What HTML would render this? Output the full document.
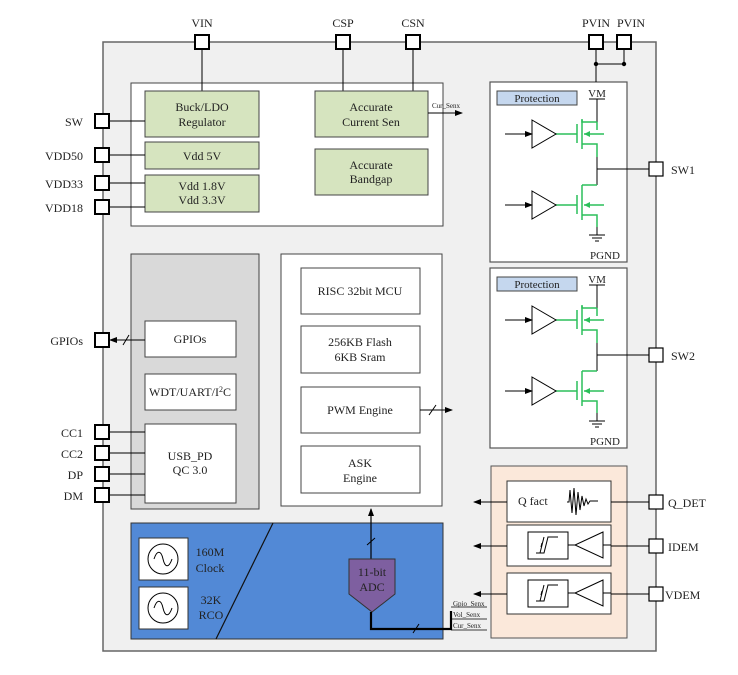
<!DOCTYPE html>
<html><head><meta charset="utf-8"><style>
html,body{margin:0;padding:0;background:#fff;}
svg{display:block;}
text{font-family:"Liberation Serif",serif;fill:#222;}
</style></head><body>
<svg width="738" height="675" viewBox="0 0 738 675" xmlns="http://www.w3.org/2000/svg">
<defs>
<marker id="ah" markerWidth="8" markerHeight="8" refX="7" refY="4" orient="auto" markerUnits="userSpaceOnUse"><path d="M0,1 L8,4 L0,7 Z" fill="#000"/></marker>
<g id="prot">
  <rect x="0" y="0" width="137" height="180" fill="#fff" stroke="#555" stroke-width="1.2"/>
  <rect x="7" y="9" width="80" height="14" fill="#c5d7ee" stroke="#444"/>
  <text x="47" y="20" font-size="11" text-anchor="middle">Protection</text>
  <text x="107" y="15" font-size="11" text-anchor="middle">VM</text>
  <line x1="99" y1="17" x2="115" y2="17" stroke="#000"/>
  <line x1="107" y1="17" x2="107" y2="40" stroke="#000"/>
  <!-- top transistor -->
  <g stroke="#2bbf5a" stroke-width="1.5" fill="none">
    <polyline points="107,40 107,40 92,40 92,38"/>
    <line x1="92" y1="37" x2="92" y2="67"/>
    <line x1="87" y1="42" x2="87" y2="61"/>
    <line x1="65" y1="52" x2="87" y2="52"/>
    <line x1="94" y1="52" x2="114" y2="52"/>
    <polyline points="92,62 107,62 107,75"/>
    <line x1="107" y1="40" x2="107" y2="48"/>
  </g>
  <path d="M94,52 L100,49 L100,55 Z" fill="#2bbf5a"/>
  <path d="M42,38 L66,52 L42,66 Z" fill="#fff" stroke="#000"/>
  <line x1="15" y1="52" x2="42" y2="52" stroke="#000" marker-end="url(#ah)"/>
  <line x1="107" y1="75" x2="107" y2="103" stroke="#000"/>
  <line x1="107" y1="87" x2="159" y2="87" stroke="#000"/>
  <!-- bottom transistor -->
  <g stroke="#2bbf5a" stroke-width="1.5" fill="none">
    <polyline points="107,103 92,103"/>
    <line x1="92" y1="108" x2="92" y2="138"/>
    <line x1="87" y1="113" x2="87" y2="132"/>
    <line x1="65" y1="123" x2="87" y2="123"/>
    <line x1="94" y1="123" x2="114" y2="123"/>
    <polyline points="92,133 107,133 107,145"/>
    <line x1="92" y1="103" x2="92" y2="108"/>
  </g>
  <path d="M94,123 L100,120 L100,126 Z" fill="#2bbf5a"/>
  <path d="M42,109 L66,123 L42,137 Z" fill="#fff" stroke="#000"/>
  <line x1="15" y1="123" x2="42" y2="123" stroke="#000" marker-end="url(#ah)"/>
  <line x1="107" y1="145" x2="107" y2="153" stroke="#000"/>
  <line x1="99" y1="153" x2="115" y2="153" stroke="#000"/>
  <line x1="102" y1="156" x2="112" y2="156" stroke="#000"/>
  <line x1="105" y1="159" x2="109" y2="159" stroke="#000"/>
  <text x="115" y="177" font-size="11" text-anchor="middle">PGND</text>
</g>
<g id="osc">
  <rect x="0" y="0" width="49" height="42" fill="#fff" stroke="#333"/>
  <circle cx="24" cy="21" r="15" fill="none" stroke="#000"/>
  <path d="M15,21 C18,12 22,12 24,21 C26,30 30,30 33,21" fill="none" stroke="#000"/>
</g>
<g id="hyst">
  <rect x="0" y="0" width="104" height="41" fill="#fff" stroke="#333"/>
  <rect x="21" y="7" width="40" height="27" fill="#fff" stroke="#000"/>
  <path d="M29,28 L37,28 L41,12 L51,12 M33,28 L37,12 M37,28 L41,12" fill="none" stroke="#000"/>
  <line x1="34" y1="22" x2="35" y2="18" stroke="#000"/>
  <path d="M96,7 L68,20 L96,33 Z" fill="#fff" stroke="#000"/>
  <line x1="61" y1="20" x2="68" y2="20" stroke="#000"/>
  <line x1="96" y1="20" x2="104" y2="20" stroke="#000"/>
</g>
</defs>

<!-- main chip -->
<rect x="103" y="42" width="553" height="609" fill="#f0f0f0" stroke="#666" stroke-width="1.5"/>

<!-- top box -->
<rect x="131" y="83" width="312" height="143" fill="#fff" stroke="#444"/>
<line x1="202" y1="42" x2="202" y2="91" stroke="#000"/>
<line x1="343" y1="42" x2="343" y2="91" stroke="#000"/>
<line x1="413" y1="42" x2="413" y2="91" stroke="#000"/>
<g fill="#d6e4bf" stroke="#444">
<rect x="145" y="91" width="114" height="46"/>
<rect x="145" y="142" width="114" height="27"/>
<rect x="145" y="175" width="114" height="37"/>
<rect x="315" y="91" width="113" height="46"/>
<rect x="315" y="149" width="113" height="46"/>
</g>
<g font-size="12" text-anchor="middle">
<text x="202" y="111">Buck/LDO</text><text x="202" y="126">Regulator</text>
<text x="202" y="160">Vdd 5V</text>
<text x="202" y="190">Vdd 1.8V</text><text x="202" y="204">Vdd 3.3V</text>
<text x="371" y="111">Accurate</text><text x="371" y="126">Current Sen</text>
<text x="371" y="169">Accurate</text><text x="371" y="183">Bandgap</text>
</g>
<line x1="428" y1="113" x2="462" y2="113" stroke="#000" marker-end="url(#ah)"/>
<text x="432" y="108" font-size="7">Cur_Senx</text>
<g stroke="#000">
<line x1="109" y1="121" x2="145" y2="121"/>
<line x1="109" y1="155" x2="145" y2="155"/>
<line x1="109" y1="183" x2="145" y2="183"/>
<line x1="109" y1="207" x2="145" y2="207"/>
</g>

<!-- gray box -->
<rect x="131" y="254" width="128" height="255" fill="#d9d9d9" stroke="#444"/>
<g fill="#fff" stroke="#444">
<rect x="145" y="321" width="91" height="36"/>
<rect x="145" y="374" width="91" height="36"/>
<rect x="145" y="424" width="91" height="79"/>
</g>
<g font-size="12" text-anchor="middle">
<text x="190" y="343">GPIOs</text>
<text x="190" y="396">WDT/UART/I<tspan font-size="8" dy="-4">2</tspan><tspan dy="4">C</tspan></text>
<text x="190" y="460">USB_PD</text><text x="190" y="474">QC 3.0</text>
</g>
<line x1="145" y1="340" x2="110" y2="340" stroke="#000" marker-end="url(#ah)"/>
<line x1="123" y1="345" x2="129" y2="335" stroke="#000"/>
<g stroke="#000">
<line x1="109" y1="432" x2="145" y2="432"/>
<line x1="109" y1="453" x2="145" y2="453"/>
<line x1="109" y1="474" x2="145" y2="474"/>
<line x1="109" y1="495" x2="145" y2="495"/>
</g>

<!-- MCU box -->
<rect x="281" y="254" width="161" height="252" fill="#fff" stroke="#444"/>
<g fill="#fff" stroke="#444">
<rect x="301" y="268" width="119" height="46"/>
<rect x="301" y="326" width="119" height="47"/>
<rect x="301" y="387" width="119" height="46"/>
<rect x="301" y="446" width="119" height="47"/>
</g>
<g font-size="12" text-anchor="middle">
<text x="360" y="295">RISC 32bit MCU</text>
<text x="360" y="346">256KB Flash</text><text x="360" y="361">6KB Sram</text>
<text x="360" y="414">PWM Engine</text>
<text x="360" y="467">ASK</text><text x="360" y="482">Engine</text>
</g>
<line x1="420" y1="410" x2="452" y2="410" stroke="#000" marker-end="url(#ah)"/>
<line x1="429" y1="415" x2="436" y2="405" stroke="#000"/>

<!-- blue box -->
<rect x="131" y="523" width="312" height="116" fill="#5289d6" stroke="#333"/>
<line x1="273" y1="523" x2="216" y2="639" stroke="#111" stroke-width="1.2"/>
<use href="#osc" x="139" y="538"/>
<use href="#osc" x="139" y="587"/>
<g font-size="12" text-anchor="middle">
<text x="210" y="556">160M</text><text x="210" y="572">Clock</text>
<text x="211" y="604">32K</text><text x="211" y="619">RCO</text>
</g>
<line x1="371" y1="559" x2="371" y2="509" stroke="#000" stroke-width="1.2" marker-end="url(#ah)"/>
<line x1="367" y1="545" x2="375" y2="538" stroke="#000"/>
<path d="M349,559 L395,559 L395,594 L372,612 L349,594 Z" fill="#7e5fa0" stroke="#333"/>
<text x="372" y="576" font-size="12" text-anchor="middle">11-bit</text>
<text x="372" y="591" font-size="12" text-anchor="middle">ADC</text>
<polyline points="371,612 371,629 451,629 451,611" fill="none" stroke="#000" stroke-width="2.2"/>
<line x1="413" y1="633" x2="419" y2="624" stroke="#000"/>
<g stroke="#000" stroke-width="0.8">
<line x1="451" y1="607" x2="487" y2="607"/>
<line x1="451" y1="619" x2="487" y2="619"/>
<line x1="451" y1="630" x2="487" y2="630"/>
</g>
<g font-size="7">
<text x="453" y="606">Gpio_Senx</text>
<text x="453" y="617">Vol_Senx</text>
<text x="453" y="628">Cur_Senx</text>
</g>

<!-- protection blocks -->
<use href="#prot" x="490" y="82"/>
<use href="#prot" x="490" y="268"/>

<!-- peach box -->
<rect x="491" y="466" width="136" height="172" fill="#fbe8da" stroke="#555"/>
<rect x="507" y="481" width="104" height="41" fill="#fff" stroke="#333"/>
<text x="518" y="505" font-size="12">Q fact</text>
<path d="M567,502 L569,502 L570,490 L572,513 L574,488 L576,515 L578,492 L580,510 L582,496 L584,506 L586,499 L588,504 L590,501 L598,501" fill="none" stroke="#000"/>
<use href="#hyst" x="507" y="525"/>
<use href="#hyst" x="507" y="573"/>
<g stroke="#000">
<line x1="507" y1="502" x2="474" y2="502" marker-end="url(#ah)"/>
<line x1="507" y1="546" x2="474" y2="546" marker-end="url(#ah)"/>
<line x1="507" y1="594" x2="474" y2="594" marker-end="url(#ah)"/>
<line x1="611" y1="502" x2="649" y2="502"/>
<line x1="611" y1="546" x2="649" y2="546"/>
<line x1="611" y1="594" x2="649" y2="594"/>
</g>

<!-- PVIN connections -->
<line x1="596" y1="42" x2="596" y2="82" stroke="#000"/>
<line x1="596" y1="64" x2="624" y2="64" stroke="#000"/>
<line x1="624" y1="42" x2="624" y2="64" stroke="#000"/>
<circle cx="596" cy="64" r="2.2" fill="#000"/>
<circle cx="624" cy="64" r="2.2" fill="#000"/>

<!-- pins -->
<g fill="#fff" stroke="#000" stroke-width="2">
<rect x="195" y="35" width="14" height="14"/>
<rect x="336" y="35" width="14" height="14"/>
<rect x="406" y="35" width="14" height="14"/>
<rect x="589" y="35" width="14" height="14"/>
<rect x="617" y="35" width="14" height="14"/>
<rect x="95" y="114" width="14" height="14"/>
<rect x="95" y="148" width="14" height="14"/>
<rect x="95" y="176" width="14" height="14"/>
<rect x="95" y="200" width="14" height="14"/>
<rect x="95" y="333" width="14" height="14"/>
<rect x="95" y="425" width="14" height="14"/>
<rect x="95" y="446" width="14" height="14"/>
<rect x="95" y="467" width="14" height="14"/>
<rect x="95" y="488" width="14" height="14"/>
</g>
<g fill="#fff" stroke="#000" stroke-width="1.2">
<rect x="649" y="162" width="14" height="14"/>
<rect x="649" y="348" width="14" height="14"/>
<rect x="649" y="495" width="14" height="14"/>
<rect x="649" y="539" width="14" height="14"/>
<rect x="649" y="587" width="14" height="14"/>
</g>
<g font-size="12">
<text x="202" y="27" text-anchor="middle">VIN</text>
<text x="343" y="27" text-anchor="middle">CSP</text>
<text x="413" y="27" text-anchor="middle">CSN</text>
<text x="596" y="27" text-anchor="middle">PVIN</text>
<text x="631" y="27" text-anchor="middle">PVIN</text>
<g text-anchor="end">
<text x="83" y="126">SW</text>
<text x="83" y="160">VDD50</text>
<text x="83" y="188">VDD33</text>
<text x="83" y="212">VDD18</text>
<text x="83" y="345">GPIOs</text>
<text x="83" y="437">CC1</text>
<text x="83" y="458">CC2</text>
<text x="83" y="479">DP</text>
<text x="83" y="500">DM</text>
</g>
<text x="671" y="174">SW1</text>
<text x="671" y="360">SW2</text>
<text x="668" y="507">Q_DET</text>
<text x="668" y="551">IDEM</text>
<text x="665" y="599">VDEM</text>
</g>
</svg>
</body></html>
